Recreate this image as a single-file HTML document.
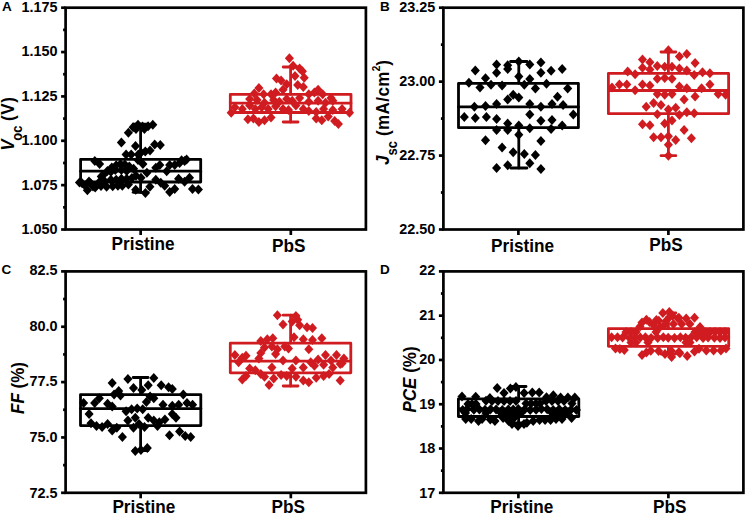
<!DOCTYPE html>
<html><head><meta charset="utf-8"><style>
html,body{margin:0;padding:0;background:#fff;}
svg{display:block;}
.ax line,.ax rect{stroke:#000;stroke-width:2.7;}
text{font-family:"Liberation Sans",sans-serif;font-weight:bold;fill:#000;}
.tk{font-size:14px;}
.xl{font-size:18px;}
.let{font-size:13.5px;}
.yt{font-size:17px;}
.sub{font-size:13px;}
.sup{font-size:10px;}
</style></head><body>
<svg width="747" height="515" viewBox="0 0 747 515">
<g class="ax"><line x1="61.10" y1="229.50" x2="65.6" y2="229.50"/>
<text x="57.50" y="234.30" text-anchor="end" class="tk" transform="translate(57.50,0) scale(1.03,1) translate(-57.50,0)">1.050</text>
<line x1="63.10" y1="207.32" x2="65.6" y2="207.32"/>
<line x1="61.10" y1="185.14" x2="65.6" y2="185.14"/>
<text x="57.50" y="189.78" text-anchor="end" class="tk" transform="translate(57.50,0) scale(1.03,1) translate(-57.50,0)">1.075</text>
<line x1="63.10" y1="162.96" x2="65.6" y2="162.96"/>
<line x1="61.10" y1="140.78" x2="65.6" y2="140.78"/>
<text x="57.50" y="145.26" text-anchor="end" class="tk" transform="translate(57.50,0) scale(1.03,1) translate(-57.50,0)">1.100</text>
<line x1="63.10" y1="118.60" x2="65.6" y2="118.60"/>
<line x1="61.10" y1="96.42" x2="65.6" y2="96.42"/>
<text x="57.50" y="100.74" text-anchor="end" class="tk" transform="translate(57.50,0) scale(1.03,1) translate(-57.50,0)">1.125</text>
<line x1="63.10" y1="74.24" x2="65.6" y2="74.24"/>
<line x1="61.10" y1="52.06" x2="65.6" y2="52.06"/>
<text x="57.50" y="56.22" text-anchor="end" class="tk" transform="translate(57.50,0) scale(1.03,1) translate(-57.50,0)">1.150</text>
<line x1="63.10" y1="29.88" x2="65.6" y2="29.88"/>
<line x1="61.10" y1="7.70" x2="65.6" y2="7.70"/>
<text x="57.50" y="11.70" text-anchor="end" class="tk" transform="translate(57.50,0) scale(1.03,1) translate(-57.50,0)">1.175</text>
<line x1="140.67" y1="229.5" x2="140.67" y2="235.00"/>
<line x1="290.82" y1="229.5" x2="290.82" y2="235.00"/>
<rect x="65.6" y="7.7" width="300.30" height="221.80" fill="none" stroke-linejoin="miter"/>
<line x1="438.90" y1="229.50" x2="443.4" y2="229.50"/>
<text x="435.30" y="234.30" text-anchor="end" class="tk" transform="translate(435.30,0) scale(1.03,1) translate(-435.30,0)">22.50</text>
<line x1="440.90" y1="192.53" x2="443.4" y2="192.53"/>
<line x1="438.90" y1="155.57" x2="443.4" y2="155.57"/>
<text x="435.30" y="160.10" text-anchor="end" class="tk" transform="translate(435.30,0) scale(1.03,1) translate(-435.30,0)">22.75</text>
<line x1="440.90" y1="118.60" x2="443.4" y2="118.60"/>
<line x1="438.90" y1="81.63" x2="443.4" y2="81.63"/>
<text x="435.30" y="85.90" text-anchor="end" class="tk" transform="translate(435.30,0) scale(1.03,1) translate(-435.30,0)">23.00</text>
<line x1="440.90" y1="44.67" x2="443.4" y2="44.67"/>
<line x1="438.90" y1="7.70" x2="443.4" y2="7.70"/>
<text x="435.30" y="11.70" text-anchor="end" class="tk" transform="translate(435.30,0) scale(1.03,1) translate(-435.30,0)">23.25</text>
<line x1="518.40" y1="229.5" x2="518.40" y2="235.00"/>
<line x1="668.40" y1="229.5" x2="668.40" y2="235.00"/>
<rect x="443.4" y="7.7" width="300.00" height="221.80" fill="none" stroke-linejoin="miter"/>
<line x1="61.10" y1="492.80" x2="65.6" y2="492.80"/>
<text x="57.50" y="497.60" text-anchor="end" class="tk" transform="translate(57.50,0) scale(1.03,1) translate(-57.50,0)">72.5</text>
<line x1="63.10" y1="465.12" x2="65.6" y2="465.12"/>
<line x1="61.10" y1="437.45" x2="65.6" y2="437.45"/>
<text x="57.50" y="442.05" text-anchor="end" class="tk" transform="translate(57.50,0) scale(1.03,1) translate(-57.50,0)">75.0</text>
<line x1="63.10" y1="409.77" x2="65.6" y2="409.77"/>
<line x1="61.10" y1="382.10" x2="65.6" y2="382.10"/>
<text x="57.50" y="386.50" text-anchor="end" class="tk" transform="translate(57.50,0) scale(1.03,1) translate(-57.50,0)">77.5</text>
<line x1="63.10" y1="354.42" x2="65.6" y2="354.42"/>
<line x1="61.10" y1="326.75" x2="65.6" y2="326.75"/>
<text x="57.50" y="330.95" text-anchor="end" class="tk" transform="translate(57.50,0) scale(1.03,1) translate(-57.50,0)">80.0</text>
<line x1="63.10" y1="299.07" x2="65.6" y2="299.07"/>
<line x1="61.10" y1="271.40" x2="65.6" y2="271.40"/>
<text x="57.50" y="275.40" text-anchor="end" class="tk" transform="translate(57.50,0) scale(1.03,1) translate(-57.50,0)">82.5</text>
<line x1="140.67" y1="492.8" x2="140.67" y2="498.30"/>
<line x1="290.82" y1="492.8" x2="290.82" y2="498.30"/>
<rect x="65.6" y="271.4" width="300.30" height="221.40" fill="none" stroke-linejoin="miter"/>
<line x1="438.90" y1="492.80" x2="443.4" y2="492.80"/>
<text x="435.30" y="497.60" text-anchor="end" class="tk" transform="translate(435.30,0) scale(1.03,1) translate(-435.30,0)">17</text>
<line x1="440.90" y1="470.66" x2="443.4" y2="470.66"/>
<line x1="438.90" y1="448.52" x2="443.4" y2="448.52"/>
<text x="435.30" y="453.16" text-anchor="end" class="tk" transform="translate(435.30,0) scale(1.03,1) translate(-435.30,0)">18</text>
<line x1="440.90" y1="426.38" x2="443.4" y2="426.38"/>
<line x1="438.90" y1="404.24" x2="443.4" y2="404.24"/>
<text x="435.30" y="408.72" text-anchor="end" class="tk" transform="translate(435.30,0) scale(1.03,1) translate(-435.30,0)">19</text>
<line x1="440.90" y1="382.10" x2="443.4" y2="382.10"/>
<line x1="438.90" y1="359.96" x2="443.4" y2="359.96"/>
<text x="435.30" y="364.28" text-anchor="end" class="tk" transform="translate(435.30,0) scale(1.03,1) translate(-435.30,0)">20</text>
<line x1="440.90" y1="337.82" x2="443.4" y2="337.82"/>
<line x1="438.90" y1="315.68" x2="443.4" y2="315.68"/>
<text x="435.30" y="319.84" text-anchor="end" class="tk" transform="translate(435.30,0) scale(1.03,1) translate(-435.30,0)">21</text>
<line x1="440.90" y1="293.54" x2="443.4" y2="293.54"/>
<line x1="438.90" y1="271.40" x2="443.4" y2="271.40"/>
<text x="435.30" y="275.40" text-anchor="end" class="tk" transform="translate(435.30,0) scale(1.03,1) translate(-435.30,0)">22</text>
<line x1="518.40" y1="492.8" x2="518.40" y2="498.30"/>
<line x1="668.40" y1="492.8" x2="668.40" y2="498.30"/>
<rect x="443.4" y="271.4" width="300.00" height="221.40" fill="none" stroke-linejoin="miter"/>
<text x="111.50" y="249.90" class="xl" transform="translate(111.50,0) scale(0.955,1) translate(-111.50,0)">Pristine</text>
<text x="272.00" y="252.40" class="xl" transform="translate(272.00,0) scale(0.955,1) translate(-272.00,0)">PbS</text>
<text x="491.10" y="251.60" class="xl" transform="translate(491.10,0) scale(0.955,1) translate(-491.10,0)">Pristine</text>
<text x="649.20" y="251.50" class="xl" transform="translate(649.20,0) scale(0.955,1) translate(-649.20,0)">PbS</text>
<text x="112.40" y="513.30" class="xl" transform="translate(112.40,0) scale(0.955,1) translate(-112.40,0)">Pristine</text>
<text x="271.50" y="513.40" class="xl" transform="translate(271.50,0) scale(0.955,1) translate(-271.50,0)">PbS</text>
<text x="490.30" y="512.70" class="xl" transform="translate(490.30,0) scale(0.955,1) translate(-490.30,0)">Pristine</text>
<text x="653.00" y="513.40" class="xl" transform="translate(653.00,0) scale(0.955,1) translate(-653.00,0)">PbS</text>
<text x="1.9" y="10.8" class="let">A</text>
<text x="379.9" y="10.7" class="let">B</text>
<text x="1.6" y="274.1" class="let">C</text>
<text x="379.9" y="273.6" class="let">D</text>
<text transform="translate(13.8,150.8) rotate(-90) scale(1,1.08)" class="yt"><tspan font-style="italic">V</tspan><tspan class="sub" dy="7.8" dx="-1.2" font-size="14">oc</tspan><tspan dy="-7.8" dx="-1.0" letter-spacing="0.7"> (V)</tspan></text>
<text transform="translate(389.4,165.0) rotate(-90) scale(1,1.08)" class="yt"><tspan font-style="italic">J</tspan><tspan class="sub" dy="6.8">sc</tspan><tspan dy="-6.8" letter-spacing="0.4"> (mA/cm</tspan><tspan class="sup" dy="-8.7">2</tspan><tspan dy="8.7">)</tspan></text>
<text transform="translate(23.5,414) rotate(-90) scale(1,1.08)" class="yt"><tspan font-style="italic">FF</tspan> (%)</text>
<text transform="translate(415.5,412.5) rotate(-90) scale(1,1.08)" class="yt"><tspan font-style="italic">PCE</tspan> (%)</text></g>
<g stroke="#000" stroke-width="2.8" fill="none" stroke-linejoin="round" stroke-linecap="round">
<rect x="80.6" y="159.3" width="120.10" height="22.70"/>
<line x1="80.6" y1="171.2" x2="200.7" y2="171.2"/>
<line x1="140.6" y1="124.2" x2="140.6" y2="159.3"/>
<line x1="140.6" y1="182.0" x2="140.6" y2="192.3"/>
<line x1="133.2" y1="124.2" x2="148.0" y2="124.2"/>
<line x1="133.2" y1="192.3" x2="148.0" y2="192.3"/>
</g>
<g fill="#000" stroke="none">
<path d="M138.0 119.8l4.55 5.0 -4.55 5.0 -4.55 -5.0z"/>
<path d="M142.5 121.5l4.55 5.0 -4.55 5.0 -4.55 -5.0z"/>
<path d="M136.0 124.0l4.55 5.0 -4.55 5.0 -4.55 -5.0z"/>
<path d="M152.8 119.8l4.55 5.0 -4.55 5.0 -4.55 -5.0z"/>
<path d="M128.4 127.8l4.55 5.0 -4.55 5.0 -4.55 -5.0z"/>
<path d="M133.1 122.2l4.55 5.0 -4.55 5.0 -4.55 -5.0z"/>
<path d="M144.4 124.1l4.55 5.0 -4.55 5.0 -4.55 -5.0z"/>
<path d="M148.1 121.2l4.55 5.0 -4.55 5.0 -4.55 -5.0z"/>
<path d="M121.4 137.6l4.55 5.0 -4.55 5.0 -4.55 -5.0z"/>
<path d="M135.5 140.9l4.55 5.0 -4.55 5.0 -4.55 -5.0z"/>
<path d="M154.7 139.5l4.55 5.0 -4.55 5.0 -4.55 -5.0z"/>
<path d="M160.3 140.0l4.55 5.0 -4.55 5.0 -4.55 -5.0z"/>
<path d="M145.3 146.6l4.55 5.0 -4.55 5.0 -4.55 -5.0z"/>
<path d="M150.0 145.6l4.55 5.0 -4.55 5.0 -4.55 -5.0z"/>
<path d="M126.1 149.4l4.55 5.0 -4.55 5.0 -4.55 -5.0z"/>
<path d="M131.2 149.4l4.55 5.0 -4.55 5.0 -4.55 -5.0z"/>
<path d="M138.3 149.4l4.55 5.0 -4.55 5.0 -4.55 -5.0z"/>
<path d="M141.1 147.5l4.55 5.0 -4.55 5.0 -4.55 -5.0z"/>
<path d="M138.0 154.9l4.55 5.0 -4.55 5.0 -4.55 -5.0z"/>
<path d="M142.9 158.9l4.55 5.0 -4.55 5.0 -4.55 -5.0z"/>
<path d="M155.8 162.8l4.55 5.0 -4.55 5.0 -4.55 -5.0z"/>
<path d="M159.8 159.9l4.55 5.0 -4.55 5.0 -4.55 -5.0z"/>
<path d="M166.7 166.3l4.55 5.0 -4.55 5.0 -4.55 -5.0z"/>
<path d="M169.7 159.9l4.55 5.0 -4.55 5.0 -4.55 -5.0z"/>
<path d="M174.7 159.9l4.55 5.0 -4.55 5.0 -4.55 -5.0z"/>
<path d="M179.6 157.9l4.55 5.0 -4.55 5.0 -4.55 -5.0z"/>
<path d="M184.6 155.9l4.55 5.0 -4.55 5.0 -4.55 -5.0z"/>
<path d="M186.6 154.6l4.55 5.0 -4.55 5.0 -4.55 -5.0z"/>
<path d="M181.6 155.2l4.55 5.0 -4.55 5.0 -4.55 -5.0z"/>
<path d="M146.9 167.8l4.55 5.0 -4.55 5.0 -4.55 -5.0z"/>
<path d="M141.0 172.8l4.55 5.0 -4.55 5.0 -4.55 -5.0z"/>
<path d="M155.8 174.7l4.55 5.0 -4.55 5.0 -4.55 -5.0z"/>
<path d="M160.8 177.7l4.55 5.0 -4.55 5.0 -4.55 -5.0z"/>
<path d="M164.7 180.7l4.55 5.0 -4.55 5.0 -4.55 -5.0z"/>
<path d="M178.6 173.7l4.55 5.0 -4.55 5.0 -4.55 -5.0z"/>
<path d="M184.6 176.7l4.55 5.0 -4.55 5.0 -4.55 -5.0z"/>
<path d="M189.5 172.8l4.55 5.0 -4.55 5.0 -4.55 -5.0z"/>
<path d="M149.9 181.7l4.55 5.0 -4.55 5.0 -4.55 -5.0z"/>
<path d="M145.4 188.1l4.55 5.0 -4.55 5.0 -4.55 -5.0z"/>
<path d="M169.7 187.1l4.55 5.0 -4.55 5.0 -4.55 -5.0z"/>
<path d="M174.7 184.1l4.55 5.0 -4.55 5.0 -4.55 -5.0z"/>
<path d="M192.5 184.1l4.55 5.0 -4.55 5.0 -4.55 -5.0z"/>
<path d="M198.4 184.6l4.55 5.0 -4.55 5.0 -4.55 -5.0z"/>
<path d="M94.8 155.9l4.55 5.0 -4.55 5.0 -4.55 -5.0z"/>
<path d="M99.6 159.0l4.55 5.0 -4.55 5.0 -4.55 -5.0z"/>
<path d="M103.1 170.3l4.55 5.0 -4.55 5.0 -4.55 -5.0z"/>
<path d="M107.4 166.0l4.55 5.0 -4.55 5.0 -4.55 -5.0z"/>
<path d="M111.8 162.5l4.55 5.0 -4.55 5.0 -4.55 -5.0z"/>
<path d="M116.2 160.3l4.55 5.0 -4.55 5.0 -4.55 -5.0z"/>
<path d="M120.5 159.0l4.55 5.0 -4.55 5.0 -4.55 -5.0z"/>
<path d="M124.9 159.4l4.55 5.0 -4.55 5.0 -4.55 -5.0z"/>
<path d="M129.3 161.6l4.55 5.0 -4.55 5.0 -4.55 -5.0z"/>
<path d="M133.6 163.8l4.55 5.0 -4.55 5.0 -4.55 -5.0z"/>
<path d="M121.4 165.1l4.55 5.0 -4.55 5.0 -4.55 -5.0z"/>
<path d="M126.7 166.0l4.55 5.0 -4.55 5.0 -4.55 -5.0z"/>
<path d="M115.3 165.1l4.55 5.0 -4.55 5.0 -4.55 -5.0z"/>
<path d="M110.9 166.8l4.55 5.0 -4.55 5.0 -4.55 -5.0z"/>
<path d="M87.4 185.2l4.55 5.0 -4.55 5.0 -4.55 -5.0z"/>
<path d="M95.2 182.6l4.55 5.0 -4.55 5.0 -4.55 -5.0z"/>
<path d="M106.6 181.7l4.55 5.0 -4.55 5.0 -4.55 -5.0z"/>
<path d="M112.7 181.2l4.55 5.0 -4.55 5.0 -4.55 -5.0z"/>
<path d="M117.9 180.8l4.55 5.0 -4.55 5.0 -4.55 -5.0z"/>
<path d="M122.3 180.8l4.55 5.0 -4.55 5.0 -4.55 -5.0z"/>
<path d="M128.4 179.5l4.55 5.0 -4.55 5.0 -4.55 -5.0z"/>
<path d="M82.1 178.2l4.55 5.0 -4.55 5.0 -4.55 -5.0z"/>
<path d="M90.8 178.6l4.55 5.0 -4.55 5.0 -4.55 -5.0z"/>
<path d="M98.7 177.8l4.55 5.0 -4.55 5.0 -4.55 -5.0z"/>
<path d="M104.8 176.4l4.55 5.0 -4.55 5.0 -4.55 -5.0z"/>
<path d="M110.9 174.7l4.55 5.0 -4.55 5.0 -4.55 -5.0z"/>
<path d="M116.2 174.7l4.55 5.0 -4.55 5.0 -4.55 -5.0z"/>
<path d="M121.4 173.8l4.55 5.0 -4.55 5.0 -4.55 -5.0z"/>
<path d="M126.7 173.8l4.55 5.0 -4.55 5.0 -4.55 -5.0z"/>
<path d="M131.9 172.9l4.55 5.0 -4.55 5.0 -4.55 -5.0z"/>
<path d="M101.3 171.6l4.55 5.0 -4.55 5.0 -4.55 -5.0z"/>
<path d="M135.7 184.8l4.55 5.0 -4.55 5.0 -4.55 -5.0z"/>
<path d="M136.0 170.8l4.55 5.0 -4.55 5.0 -4.55 -5.0z"/>
<path d="M85.0 180.5l4.55 5.0 -4.55 5.0 -4.55 -5.0z"/>
<path d="M93.0 181.5l4.55 5.0 -4.55 5.0 -4.55 -5.0z"/>
<path d="M101.0 181.0l4.55 5.0 -4.55 5.0 -4.55 -5.0z"/>
<path d="M79.5 177.5l4.55 5.0 -4.55 5.0 -4.55 -5.0z"/>
<path d="M89.0 176.5l4.55 5.0 -4.55 5.0 -4.55 -5.0z"/>
</g>
<g stroke="#d01c21" stroke-width="2.8" fill="none" stroke-linejoin="round" stroke-linecap="round">
<rect x="230.3" y="94.3" width="120.70" height="18.20"/>
<line x1="230.3" y1="103.1" x2="351.0" y2="103.1"/>
<line x1="290.6" y1="67" x2="290.6" y2="94.3"/>
<line x1="290.6" y1="112.5" x2="290.6" y2="122"/>
<line x1="283.20000000000005" y1="67" x2="298.0" y2="67"/>
<line x1="283.20000000000005" y1="122" x2="298.0" y2="122"/>
</g>
<g fill="#d01c21" stroke="none">
<path d="M289.4 53.3l4.55 5.0 -4.55 5.0 -4.55 -5.0z"/>
<path d="M293.1 60.7l4.55 5.0 -4.55 5.0 -4.55 -5.0z"/>
<path d="M299.6 63.5l4.55 5.0 -4.55 5.0 -4.55 -5.0z"/>
<path d="M302.4 66.2l4.55 5.0 -4.55 5.0 -4.55 -5.0z"/>
<path d="M295.0 70.9l4.55 5.0 -4.55 5.0 -4.55 -5.0z"/>
<path d="M304.2 72.7l4.55 5.0 -4.55 5.0 -4.55 -5.0z"/>
<path d="M276.5 73.6l4.55 5.0 -4.55 5.0 -4.55 -5.0z"/>
<path d="M281.1 75.5l4.55 5.0 -4.55 5.0 -4.55 -5.0z"/>
<path d="M286.7 79.2l4.55 5.0 -4.55 5.0 -4.55 -5.0z"/>
<path d="M297.7 80.1l4.55 5.0 -4.55 5.0 -4.55 -5.0z"/>
<path d="M303.3 81.9l4.55 5.0 -4.55 5.0 -4.55 -5.0z"/>
<path d="M258.9 82.9l4.55 5.0 -4.55 5.0 -4.55 -5.0z"/>
<path d="M318.1 84.7l4.55 5.0 -4.55 5.0 -4.55 -5.0z"/>
<path d="M283.0 84.7l4.55 5.0 -4.55 5.0 -4.55 -5.0z"/>
<path d="M254.3 88.4l4.55 5.0 -4.55 5.0 -4.55 -5.0z"/>
<path d="M263.6 89.3l4.55 5.0 -4.55 5.0 -4.55 -5.0z"/>
<path d="M271.0 89.3l4.55 5.0 -4.55 5.0 -4.55 -5.0z"/>
<path d="M275.6 87.5l4.55 5.0 -4.55 5.0 -4.55 -5.0z"/>
<path d="M308.8 89.3l4.55 5.0 -4.55 5.0 -4.55 -5.0z"/>
<path d="M314.4 87.5l4.55 5.0 -4.55 5.0 -4.55 -5.0z"/>
<path d="M322.7 89.3l4.55 5.0 -4.55 5.0 -4.55 -5.0z"/>
<path d="M331.0 93.0l4.55 5.0 -4.55 5.0 -4.55 -5.0z"/>
<path d="M249.7 94.0l4.55 5.0 -4.55 5.0 -4.55 -5.0z"/>
<path d="M257.1 94.9l4.55 5.0 -4.55 5.0 -4.55 -5.0z"/>
<path d="M264.5 97.7l4.55 5.0 -4.55 5.0 -4.55 -5.0z"/>
<path d="M273.7 94.9l4.55 5.0 -4.55 5.0 -4.55 -5.0z"/>
<path d="M279.3 96.7l4.55 5.0 -4.55 5.0 -4.55 -5.0z"/>
<path d="M286.7 94.0l4.55 5.0 -4.55 5.0 -4.55 -5.0z"/>
<path d="M292.2 95.8l4.55 5.0 -4.55 5.0 -4.55 -5.0z"/>
<path d="M299.6 93.0l4.55 5.0 -4.55 5.0 -4.55 -5.0z"/>
<path d="M308.8 96.7l4.55 5.0 -4.55 5.0 -4.55 -5.0z"/>
<path d="M318.1 95.8l4.55 5.0 -4.55 5.0 -4.55 -5.0z"/>
<path d="M325.5 97.7l4.55 5.0 -4.55 5.0 -4.55 -5.0z"/>
<path d="M332.8 95.8l4.55 5.0 -4.55 5.0 -4.55 -5.0z"/>
<path d="M234.9 102.3l4.55 5.0 -4.55 5.0 -4.55 -5.0z"/>
<path d="M231.2 107.8l4.55 5.0 -4.55 5.0 -4.55 -5.0z"/>
<path d="M242.3 104.1l4.55 5.0 -4.55 5.0 -4.55 -5.0z"/>
<path d="M249.7 100.4l4.55 5.0 -4.55 5.0 -4.55 -5.0z"/>
<path d="M255.3 104.1l4.55 5.0 -4.55 5.0 -4.55 -5.0z"/>
<path d="M261.7 102.3l4.55 5.0 -4.55 5.0 -4.55 -5.0z"/>
<path d="M268.2 104.1l4.55 5.0 -4.55 5.0 -4.55 -5.0z"/>
<path d="M275.6 101.3l4.55 5.0 -4.55 5.0 -4.55 -5.0z"/>
<path d="M283.0 104.1l4.55 5.0 -4.55 5.0 -4.55 -5.0z"/>
<path d="M288.5 105.0l4.55 5.0 -4.55 5.0 -4.55 -5.0z"/>
<path d="M295.9 100.4l4.55 5.0 -4.55 5.0 -4.55 -5.0z"/>
<path d="M303.3 104.1l4.55 5.0 -4.55 5.0 -4.55 -5.0z"/>
<path d="M308.8 106.0l4.55 5.0 -4.55 5.0 -4.55 -5.0z"/>
<path d="M316.2 106.9l4.55 5.0 -4.55 5.0 -4.55 -5.0z"/>
<path d="M323.6 104.1l4.55 5.0 -4.55 5.0 -4.55 -5.0z"/>
<path d="M332.8 105.0l4.55 5.0 -4.55 5.0 -4.55 -5.0z"/>
<path d="M342.1 104.1l4.55 5.0 -4.55 5.0 -4.55 -5.0z"/>
<path d="M349.5 107.8l4.55 5.0 -4.55 5.0 -4.55 -5.0z"/>
<path d="M247.9 114.3l4.55 5.0 -4.55 5.0 -4.55 -5.0z"/>
<path d="M253.4 113.4l4.55 5.0 -4.55 5.0 -4.55 -5.0z"/>
<path d="M258.9 117.0l4.55 5.0 -4.55 5.0 -4.55 -5.0z"/>
<path d="M264.5 115.2l4.55 5.0 -4.55 5.0 -4.55 -5.0z"/>
<path d="M271.0 112.4l4.55 5.0 -4.55 5.0 -4.55 -5.0z"/>
<path d="M316.2 113.4l4.55 5.0 -4.55 5.0 -4.55 -5.0z"/>
<path d="M321.8 115.2l4.55 5.0 -4.55 5.0 -4.55 -5.0z"/>
<path d="M328.2 111.5l4.55 5.0 -4.55 5.0 -4.55 -5.0z"/>
<path d="M334.7 116.1l4.55 5.0 -4.55 5.0 -4.55 -5.0z"/>
<path d="M338.4 118.9l4.55 5.0 -4.55 5.0 -4.55 -5.0z"/>
</g>
<g stroke="#000" stroke-width="2.8" fill="none" stroke-linejoin="round" stroke-linecap="round">
<rect x="458.5" y="83.3" width="119.90" height="44.40"/>
<line x1="458.5" y1="106.9" x2="578.4" y2="106.9"/>
<line x1="518.8" y1="61.5" x2="518.8" y2="83.3"/>
<line x1="518.8" y1="127.7" x2="518.8" y2="168"/>
<line x1="510.59999999999997" y1="61.5" x2="527.0" y2="61.5"/>
<line x1="510.59999999999997" y1="168" x2="527.0" y2="168"/>
</g>
<g fill="#000" stroke="none">
<path d="M496.6 59.4l4.55 5.0 -4.55 5.0 -4.55 -5.0z"/>
<path d="M507.7 60.3l4.55 5.0 -4.55 5.0 -4.55 -5.0z"/>
<path d="M518.8 56.6l4.55 5.0 -4.55 5.0 -4.55 -5.0z"/>
<path d="M529.8 59.4l4.55 5.0 -4.55 5.0 -4.55 -5.0z"/>
<path d="M540.9 57.5l4.55 5.0 -4.55 5.0 -4.55 -5.0z"/>
<path d="M475.3 65.5l4.55 5.0 -4.55 5.0 -4.55 -5.0z"/>
<path d="M496.6 67.7l4.55 5.0 -4.55 5.0 -4.55 -5.0z"/>
<path d="M507.7 64.0l4.55 5.0 -4.55 5.0 -4.55 -5.0z"/>
<path d="M540.9 67.7l4.55 5.0 -4.55 5.0 -4.55 -5.0z"/>
<path d="M551.1 65.8l4.55 5.0 -4.55 5.0 -4.55 -5.0z"/>
<path d="M562.2 64.0l4.55 5.0 -4.55 5.0 -4.55 -5.0z"/>
<path d="M485.5 73.2l4.55 5.0 -4.55 5.0 -4.55 -5.0z"/>
<path d="M518.8 71.4l4.55 5.0 -4.55 5.0 -4.55 -5.0z"/>
<path d="M529.8 74.1l4.55 5.0 -4.55 5.0 -4.55 -5.0z"/>
<path d="M468.9 77.8l4.55 5.0 -4.55 5.0 -4.55 -5.0z"/>
<path d="M480.0 82.4l4.55 5.0 -4.55 5.0 -4.55 -5.0z"/>
<path d="M491.0 79.7l4.55 5.0 -4.55 5.0 -4.55 -5.0z"/>
<path d="M502.1 80.6l4.55 5.0 -4.55 5.0 -4.55 -5.0z"/>
<path d="M524.3 79.7l4.55 5.0 -4.55 5.0 -4.55 -5.0z"/>
<path d="M535.4 83.4l4.55 5.0 -4.55 5.0 -4.55 -5.0z"/>
<path d="M546.5 78.8l4.55 5.0 -4.55 5.0 -4.55 -5.0z"/>
<path d="M567.7 83.4l4.55 5.0 -4.55 5.0 -4.55 -5.0z"/>
<path d="M513.2 89.8l4.55 5.0 -4.55 5.0 -4.55 -5.0z"/>
<path d="M507.7 94.5l4.55 5.0 -4.55 5.0 -4.55 -5.0z"/>
<path d="M518.8 92.6l4.55 5.0 -4.55 5.0 -4.55 -5.0z"/>
<path d="M557.5 91.7l4.55 5.0 -4.55 5.0 -4.55 -5.0z"/>
<path d="M474.4 101.8l4.55 5.0 -4.55 5.0 -4.55 -5.0z"/>
<path d="M485.5 100.9l4.55 5.0 -4.55 5.0 -4.55 -5.0z"/>
<path d="M496.6 99.1l4.55 5.0 -4.55 5.0 -4.55 -5.0z"/>
<path d="M529.8 99.1l4.55 5.0 -4.55 5.0 -4.55 -5.0z"/>
<path d="M540.9 101.8l4.55 5.0 -4.55 5.0 -4.55 -5.0z"/>
<path d="M552.0 99.1l4.55 5.0 -4.55 5.0 -4.55 -5.0z"/>
<path d="M563.1 100.0l4.55 5.0 -4.55 5.0 -4.55 -5.0z"/>
<path d="M464.3 112.1l4.55 5.0 -4.55 5.0 -4.55 -5.0z"/>
<path d="M475.3 113.1l4.55 5.0 -4.55 5.0 -4.55 -5.0z"/>
<path d="M486.4 112.1l4.55 5.0 -4.55 5.0 -4.55 -5.0z"/>
<path d="M496.6 114.0l4.55 5.0 -4.55 5.0 -4.55 -5.0z"/>
<path d="M529.8 109.4l4.55 5.0 -4.55 5.0 -4.55 -5.0z"/>
<path d="M540.9 115.8l4.55 5.0 -4.55 5.0 -4.55 -5.0z"/>
<path d="M552.0 114.9l4.55 5.0 -4.55 5.0 -4.55 -5.0z"/>
<path d="M573.3 109.4l4.55 5.0 -4.55 5.0 -4.55 -5.0z"/>
<path d="M507.7 118.6l4.55 5.0 -4.55 5.0 -4.55 -5.0z"/>
<path d="M518.8 120.4l4.55 5.0 -4.55 5.0 -4.55 -5.0z"/>
<path d="M529.8 123.2l4.55 5.0 -4.55 5.0 -4.55 -5.0z"/>
<path d="M496.6 125.1l4.55 5.0 -4.55 5.0 -4.55 -5.0z"/>
<path d="M507.7 125.1l4.55 5.0 -4.55 5.0 -4.55 -5.0z"/>
<path d="M551.1 124.1l4.55 5.0 -4.55 5.0 -4.55 -5.0z"/>
<path d="M562.2 120.4l4.55 5.0 -4.55 5.0 -4.55 -5.0z"/>
<path d="M518.8 129.7l4.55 5.0 -4.55 5.0 -4.55 -5.0z"/>
<path d="M485.5 135.2l4.55 5.0 -4.55 5.0 -4.55 -5.0z"/>
<path d="M540.9 136.1l4.55 5.0 -4.55 5.0 -4.55 -5.0z"/>
<path d="M502.1 142.6l4.55 5.0 -4.55 5.0 -4.55 -5.0z"/>
<path d="M513.2 147.2l4.55 5.0 -4.55 5.0 -4.55 -5.0z"/>
<path d="M524.3 149.1l4.55 5.0 -4.55 5.0 -4.55 -5.0z"/>
<path d="M535.4 150.0l4.55 5.0 -4.55 5.0 -4.55 -5.0z"/>
<path d="M496.6 162.9l4.55 5.0 -4.55 5.0 -4.55 -5.0z"/>
<path d="M507.7 160.2l4.55 5.0 -4.55 5.0 -4.55 -5.0z"/>
<path d="M529.8 158.3l4.55 5.0 -4.55 5.0 -4.55 -5.0z"/>
<path d="M540.9 163.9l4.55 5.0 -4.55 5.0 -4.55 -5.0z"/>
</g>
<g stroke="#d01c21" stroke-width="2.8" fill="none" stroke-linejoin="round" stroke-linecap="round">
<rect x="608.4" y="73.4" width="120.20" height="40.30"/>
<line x1="608.4" y1="90.5" x2="728.6" y2="90.5"/>
<line x1="668.4" y1="52" x2="668.4" y2="73.4"/>
<line x1="668.4" y1="113.7" x2="668.4" y2="155.7"/>
<line x1="661.0" y1="52" x2="675.8" y2="52"/>
<line x1="661.0" y1="155.7" x2="675.8" y2="155.7"/>
</g>
<g fill="#d01c21" stroke="none">
<path d="M668.4 45.2l4.55 5.0 -4.55 5.0 -4.55 -5.0z"/>
<path d="M679.4 51.6l4.55 5.0 -4.55 5.0 -4.55 -5.0z"/>
<path d="M686.8 48.9l4.55 5.0 -4.55 5.0 -4.55 -5.0z"/>
<path d="M695.1 58.1l4.55 5.0 -4.55 5.0 -4.55 -5.0z"/>
<path d="M642.5 54.4l4.55 5.0 -4.55 5.0 -4.55 -5.0z"/>
<path d="M649.9 57.2l4.55 5.0 -4.55 5.0 -4.55 -5.0z"/>
<path d="M642.5 62.7l4.55 5.0 -4.55 5.0 -4.55 -5.0z"/>
<path d="M649.9 64.6l4.55 5.0 -4.55 5.0 -4.55 -5.0z"/>
<path d="M657.3 60.9l4.55 5.0 -4.55 5.0 -4.55 -5.0z"/>
<path d="M664.7 61.8l4.55 5.0 -4.55 5.0 -4.55 -5.0z"/>
<path d="M672.0 61.8l4.55 5.0 -4.55 5.0 -4.55 -5.0z"/>
<path d="M679.4 63.6l4.55 5.0 -4.55 5.0 -4.55 -5.0z"/>
<path d="M686.8 65.5l4.55 5.0 -4.55 5.0 -4.55 -5.0z"/>
<path d="M627.7 66.4l4.55 5.0 -4.55 5.0 -4.55 -5.0z"/>
<path d="M635.1 69.2l4.55 5.0 -4.55 5.0 -4.55 -5.0z"/>
<path d="M702.5 67.3l4.55 5.0 -4.55 5.0 -4.55 -5.0z"/>
<path d="M709.9 68.3l4.55 5.0 -4.55 5.0 -4.55 -5.0z"/>
<path d="M694.2 70.1l4.55 5.0 -4.55 5.0 -4.55 -5.0z"/>
<path d="M657.3 73.8l4.55 5.0 -4.55 5.0 -4.55 -5.0z"/>
<path d="M664.7 72.9l4.55 5.0 -4.55 5.0 -4.55 -5.0z"/>
<path d="M672.0 73.8l4.55 5.0 -4.55 5.0 -4.55 -5.0z"/>
<path d="M612.0 82.4l4.55 5.0 -4.55 5.0 -4.55 -5.0z"/>
<path d="M619.4 79.6l4.55 5.0 -4.55 5.0 -4.55 -5.0z"/>
<path d="M626.8 79.6l4.55 5.0 -4.55 5.0 -4.55 -5.0z"/>
<path d="M635.1 85.2l4.55 5.0 -4.55 5.0 -4.55 -5.0z"/>
<path d="M642.5 79.6l4.55 5.0 -4.55 5.0 -4.55 -5.0z"/>
<path d="M649.9 80.5l4.55 5.0 -4.55 5.0 -4.55 -5.0z"/>
<path d="M679.4 81.5l4.55 5.0 -4.55 5.0 -4.55 -5.0z"/>
<path d="M686.8 83.3l4.55 5.0 -4.55 5.0 -4.55 -5.0z"/>
<path d="M701.6 83.3l4.55 5.0 -4.55 5.0 -4.55 -5.0z"/>
<path d="M709.9 79.6l4.55 5.0 -4.55 5.0 -4.55 -5.0z"/>
<path d="M718.2 88.9l4.55 5.0 -4.55 5.0 -4.55 -5.0z"/>
<path d="M725.6 89.8l4.55 5.0 -4.55 5.0 -4.55 -5.0z"/>
<path d="M657.3 88.9l4.55 5.0 -4.55 5.0 -4.55 -5.0z"/>
<path d="M664.7 89.8l4.55 5.0 -4.55 5.0 -4.55 -5.0z"/>
<path d="M672.0 88.9l4.55 5.0 -4.55 5.0 -4.55 -5.0z"/>
<path d="M684.1 94.4l4.55 5.0 -4.55 5.0 -4.55 -5.0z"/>
<path d="M695.1 91.6l4.55 5.0 -4.55 5.0 -4.55 -5.0z"/>
<path d="M646.2 101.8l4.55 5.0 -4.55 5.0 -4.55 -5.0z"/>
<path d="M653.6 98.1l4.55 5.0 -4.55 5.0 -4.55 -5.0z"/>
<path d="M661.0 99.9l4.55 5.0 -4.55 5.0 -4.55 -5.0z"/>
<path d="M668.4 104.6l4.55 5.0 -4.55 5.0 -4.55 -5.0z"/>
<path d="M675.7 102.7l4.55 5.0 -4.55 5.0 -4.55 -5.0z"/>
<path d="M657.3 109.2l4.55 5.0 -4.55 5.0 -4.55 -5.0z"/>
<path d="M679.4 110.1l4.55 5.0 -4.55 5.0 -4.55 -5.0z"/>
<path d="M686.8 107.3l4.55 5.0 -4.55 5.0 -4.55 -5.0z"/>
<path d="M694.2 108.3l4.55 5.0 -4.55 5.0 -4.55 -5.0z"/>
<path d="M642.5 119.3l4.55 5.0 -4.55 5.0 -4.55 -5.0z"/>
<path d="M649.9 120.3l4.55 5.0 -4.55 5.0 -4.55 -5.0z"/>
<path d="M664.7 118.4l4.55 5.0 -4.55 5.0 -4.55 -5.0z"/>
<path d="M672.0 115.6l4.55 5.0 -4.55 5.0 -4.55 -5.0z"/>
<path d="M684.1 124.9l4.55 5.0 -4.55 5.0 -4.55 -5.0z"/>
<path d="M653.6 132.3l4.55 5.0 -4.55 5.0 -4.55 -5.0z"/>
<path d="M661.0 132.3l4.55 5.0 -4.55 5.0 -4.55 -5.0z"/>
<path d="M668.4 131.3l4.55 5.0 -4.55 5.0 -4.55 -5.0z"/>
<path d="M675.7 135.0l4.55 5.0 -4.55 5.0 -4.55 -5.0z"/>
<path d="M691.4 133.2l4.55 5.0 -4.55 5.0 -4.55 -5.0z"/>
<path d="M668.4 139.7l4.55 5.0 -4.55 5.0 -4.55 -5.0z"/>
<path d="M668.4 150.7l4.55 5.0 -4.55 5.0 -4.55 -5.0z"/>
</g>
<g stroke="#000" stroke-width="2.8" fill="none" stroke-linejoin="round" stroke-linecap="round">
<rect x="80.5" y="394.6" width="120.30" height="31.00"/>
<line x1="80.5" y1="408.6" x2="200.8" y2="408.6"/>
<line x1="140.6" y1="377.5" x2="140.6" y2="394.6"/>
<line x1="140.6" y1="425.6" x2="140.6" y2="450.5"/>
<line x1="133.2" y1="377.5" x2="148.0" y2="377.5"/>
<line x1="133.2" y1="450.5" x2="148.0" y2="450.5"/>
</g>
<g fill="#000" stroke="none">
<path d="M112.2 378.1l4.55 5.0 -4.55 5.0 -4.55 -5.0z"/>
<path d="M127.9 373.9l4.55 5.0 -4.55 5.0 -4.55 -5.0z"/>
<path d="M153.8 372.9l4.55 5.0 -4.55 5.0 -4.55 -5.0z"/>
<path d="M133.5 383.1l4.55 5.0 -4.55 5.0 -4.55 -5.0z"/>
<path d="M141.8 385.0l4.55 5.0 -4.55 5.0 -4.55 -5.0z"/>
<path d="M148.2 380.3l4.55 5.0 -4.55 5.0 -4.55 -5.0z"/>
<path d="M161.2 380.3l4.55 5.0 -4.55 5.0 -4.55 -5.0z"/>
<path d="M168.6 382.2l4.55 5.0 -4.55 5.0 -4.55 -5.0z"/>
<path d="M172.3 384.0l4.55 5.0 -4.55 5.0 -4.55 -5.0z"/>
<path d="M118.7 385.9l4.55 5.0 -4.55 5.0 -4.55 -5.0z"/>
<path d="M114.1 389.6l4.55 5.0 -4.55 5.0 -4.55 -5.0z"/>
<path d="M120.5 390.5l4.55 5.0 -4.55 5.0 -4.55 -5.0z"/>
<path d="M150.1 391.4l4.55 5.0 -4.55 5.0 -4.55 -5.0z"/>
<path d="M183.3 389.6l4.55 5.0 -4.55 5.0 -4.55 -5.0z"/>
<path d="M83.6 397.9l4.55 5.0 -4.55 5.0 -4.55 -5.0z"/>
<path d="M94.7 397.9l4.55 5.0 -4.55 5.0 -4.55 -5.0z"/>
<path d="M99.3 393.3l4.55 5.0 -4.55 5.0 -4.55 -5.0z"/>
<path d="M107.6 398.8l4.55 5.0 -4.55 5.0 -4.55 -5.0z"/>
<path d="M112.2 401.6l4.55 5.0 -4.55 5.0 -4.55 -5.0z"/>
<path d="M146.4 397.0l4.55 5.0 -4.55 5.0 -4.55 -5.0z"/>
<path d="M153.8 393.3l4.55 5.0 -4.55 5.0 -4.55 -5.0z"/>
<path d="M163.0 399.7l4.55 5.0 -4.55 5.0 -4.55 -5.0z"/>
<path d="M172.3 400.7l4.55 5.0 -4.55 5.0 -4.55 -5.0z"/>
<path d="M178.7 399.7l4.55 5.0 -4.55 5.0 -4.55 -5.0z"/>
<path d="M187.0 397.9l4.55 5.0 -4.55 5.0 -4.55 -5.0z"/>
<path d="M192.6 399.7l4.55 5.0 -4.55 5.0 -4.55 -5.0z"/>
<path d="M126.1 406.2l4.55 5.0 -4.55 5.0 -4.55 -5.0z"/>
<path d="M131.6 404.3l4.55 5.0 -4.55 5.0 -4.55 -5.0z"/>
<path d="M137.2 403.4l4.55 5.0 -4.55 5.0 -4.55 -5.0z"/>
<path d="M142.7 404.3l4.55 5.0 -4.55 5.0 -4.55 -5.0z"/>
<path d="M89.1 409.0l4.55 5.0 -4.55 5.0 -4.55 -5.0z"/>
<path d="M172.3 409.0l4.55 5.0 -4.55 5.0 -4.55 -5.0z"/>
<path d="M176.0 412.7l4.55 5.0 -4.55 5.0 -4.55 -5.0z"/>
<path d="M127.9 415.4l4.55 5.0 -4.55 5.0 -4.55 -5.0z"/>
<path d="M135.3 412.7l4.55 5.0 -4.55 5.0 -4.55 -5.0z"/>
<path d="M148.2 412.7l4.55 5.0 -4.55 5.0 -4.55 -5.0z"/>
<path d="M153.8 415.4l4.55 5.0 -4.55 5.0 -4.55 -5.0z"/>
<path d="M159.3 417.3l4.55 5.0 -4.55 5.0 -4.55 -5.0z"/>
<path d="M164.9 414.5l4.55 5.0 -4.55 5.0 -4.55 -5.0z"/>
<path d="M91.0 418.2l4.55 5.0 -4.55 5.0 -4.55 -5.0z"/>
<path d="M96.5 421.0l4.55 5.0 -4.55 5.0 -4.55 -5.0z"/>
<path d="M102.1 421.9l4.55 5.0 -4.55 5.0 -4.55 -5.0z"/>
<path d="M107.6 419.1l4.55 5.0 -4.55 5.0 -4.55 -5.0z"/>
<path d="M112.2 425.6l4.55 5.0 -4.55 5.0 -4.55 -5.0z"/>
<path d="M116.8 422.8l4.55 5.0 -4.55 5.0 -4.55 -5.0z"/>
<path d="M133.5 422.8l4.55 5.0 -4.55 5.0 -4.55 -5.0z"/>
<path d="M139.0 419.1l4.55 5.0 -4.55 5.0 -4.55 -5.0z"/>
<path d="M144.5 421.9l4.55 5.0 -4.55 5.0 -4.55 -5.0z"/>
<path d="M157.5 421.0l4.55 5.0 -4.55 5.0 -4.55 -5.0z"/>
<path d="M122.4 432.1l4.55 5.0 -4.55 5.0 -4.55 -5.0z"/>
<path d="M169.5 430.2l4.55 5.0 -4.55 5.0 -4.55 -5.0z"/>
<path d="M179.6 426.5l4.55 5.0 -4.55 5.0 -4.55 -5.0z"/>
<path d="M185.2 431.1l4.55 5.0 -4.55 5.0 -4.55 -5.0z"/>
<path d="M190.7 432.1l4.55 5.0 -4.55 5.0 -4.55 -5.0z"/>
<path d="M135.3 445.9l4.55 5.0 -4.55 5.0 -4.55 -5.0z"/>
<path d="M140.9 445.0l4.55 5.0 -4.55 5.0 -4.55 -5.0z"/>
<path d="M147.3 443.1l4.55 5.0 -4.55 5.0 -4.55 -5.0z"/>
</g>
<g stroke="#d01c21" stroke-width="2.8" fill="none" stroke-linejoin="round" stroke-linecap="round">
<rect x="230.3" y="343.2" width="120.50" height="29.60"/>
<line x1="230.3" y1="361.1" x2="350.8" y2="361.1"/>
<line x1="290.6" y1="315.2" x2="290.6" y2="343.2"/>
<line x1="290.6" y1="372.8" x2="290.6" y2="386"/>
<line x1="283.20000000000005" y1="315.2" x2="298.0" y2="315.2"/>
<line x1="283.20000000000005" y1="386" x2="298.0" y2="386"/>
</g>
<g fill="#d01c21" stroke="none">
<path d="M277.4 310.2l4.55 5.0 -4.55 5.0 -4.55 -5.0z"/>
<path d="M295.9 311.1l4.55 5.0 -4.55 5.0 -4.55 -5.0z"/>
<path d="M283.0 319.4l4.55 5.0 -4.55 5.0 -4.55 -5.0z"/>
<path d="M292.2 316.6l4.55 5.0 -4.55 5.0 -4.55 -5.0z"/>
<path d="M299.6 320.3l4.55 5.0 -4.55 5.0 -4.55 -5.0z"/>
<path d="M297.7 314.8l4.55 5.0 -4.55 5.0 -4.55 -5.0z"/>
<path d="M307.0 322.2l4.55 5.0 -4.55 5.0 -4.55 -5.0z"/>
<path d="M312.5 323.1l4.55 5.0 -4.55 5.0 -4.55 -5.0z"/>
<path d="M294.0 332.3l4.55 5.0 -4.55 5.0 -4.55 -5.0z"/>
<path d="M303.3 334.2l4.55 5.0 -4.55 5.0 -4.55 -5.0z"/>
<path d="M312.5 335.1l4.55 5.0 -4.55 5.0 -4.55 -5.0z"/>
<path d="M321.8 333.3l4.55 5.0 -4.55 5.0 -4.55 -5.0z"/>
<path d="M260.8 336.0l4.55 5.0 -4.55 5.0 -4.55 -5.0z"/>
<path d="M267.3 334.2l4.55 5.0 -4.55 5.0 -4.55 -5.0z"/>
<path d="M272.8 333.3l4.55 5.0 -4.55 5.0 -4.55 -5.0z"/>
<path d="M264.5 342.5l4.55 5.0 -4.55 5.0 -4.55 -5.0z"/>
<path d="M271.9 341.6l4.55 5.0 -4.55 5.0 -4.55 -5.0z"/>
<path d="M277.4 344.3l4.55 5.0 -4.55 5.0 -4.55 -5.0z"/>
<path d="M284.8 341.6l4.55 5.0 -4.55 5.0 -4.55 -5.0z"/>
<path d="M288.5 343.4l4.55 5.0 -4.55 5.0 -4.55 -5.0z"/>
<path d="M260.8 348.0l4.55 5.0 -4.55 5.0 -4.55 -5.0z"/>
<path d="M275.6 349.0l4.55 5.0 -4.55 5.0 -4.55 -5.0z"/>
<path d="M308.8 344.3l4.55 5.0 -4.55 5.0 -4.55 -5.0z"/>
<path d="M325.5 349.9l4.55 5.0 -4.55 5.0 -4.55 -5.0z"/>
<path d="M336.5 349.9l4.55 5.0 -4.55 5.0 -4.55 -5.0z"/>
<path d="M343.9 353.6l4.55 5.0 -4.55 5.0 -4.55 -5.0z"/>
<path d="M234.9 349.9l4.55 5.0 -4.55 5.0 -4.55 -5.0z"/>
<path d="M242.3 352.7l4.55 5.0 -4.55 5.0 -4.55 -5.0z"/>
<path d="M246.0 350.8l4.55 5.0 -4.55 5.0 -4.55 -5.0z"/>
<path d="M238.6 357.3l4.55 5.0 -4.55 5.0 -4.55 -5.0z"/>
<path d="M258.9 353.6l4.55 5.0 -4.55 5.0 -4.55 -5.0z"/>
<path d="M283.0 355.4l4.55 5.0 -4.55 5.0 -4.55 -5.0z"/>
<path d="M295.9 355.4l4.55 5.0 -4.55 5.0 -4.55 -5.0z"/>
<path d="M310.7 357.3l4.55 5.0 -4.55 5.0 -4.55 -5.0z"/>
<path d="M318.1 354.5l4.55 5.0 -4.55 5.0 -4.55 -5.0z"/>
<path d="M331.0 355.4l4.55 5.0 -4.55 5.0 -4.55 -5.0z"/>
<path d="M342.1 358.2l4.55 5.0 -4.55 5.0 -4.55 -5.0z"/>
<path d="M249.7 363.5l4.55 5.0 -4.55 5.0 -4.55 -5.0z"/>
<path d="M255.3 365.3l4.55 5.0 -4.55 5.0 -4.55 -5.0z"/>
<path d="M271.9 362.6l4.55 5.0 -4.55 5.0 -4.55 -5.0z"/>
<path d="M292.2 363.5l4.55 5.0 -4.55 5.0 -4.55 -5.0z"/>
<path d="M303.3 362.6l4.55 5.0 -4.55 5.0 -4.55 -5.0z"/>
<path d="M314.4 360.7l4.55 5.0 -4.55 5.0 -4.55 -5.0z"/>
<path d="M323.6 359.8l4.55 5.0 -4.55 5.0 -4.55 -5.0z"/>
<path d="M332.8 362.6l4.55 5.0 -4.55 5.0 -4.55 -5.0z"/>
<path d="M340.2 358.9l4.55 5.0 -4.55 5.0 -4.55 -5.0z"/>
<path d="M242.3 374.6l4.55 5.0 -4.55 5.0 -4.55 -5.0z"/>
<path d="M246.0 370.9l4.55 5.0 -4.55 5.0 -4.55 -5.0z"/>
<path d="M260.8 369.0l4.55 5.0 -4.55 5.0 -4.55 -5.0z"/>
<path d="M264.5 371.8l4.55 5.0 -4.55 5.0 -4.55 -5.0z"/>
<path d="M273.7 373.6l4.55 5.0 -4.55 5.0 -4.55 -5.0z"/>
<path d="M281.1 369.9l4.55 5.0 -4.55 5.0 -4.55 -5.0z"/>
<path d="M286.7 370.9l4.55 5.0 -4.55 5.0 -4.55 -5.0z"/>
<path d="M295.9 371.8l4.55 5.0 -4.55 5.0 -4.55 -5.0z"/>
<path d="M303.3 375.5l4.55 5.0 -4.55 5.0 -4.55 -5.0z"/>
<path d="M308.8 377.3l4.55 5.0 -4.55 5.0 -4.55 -5.0z"/>
<path d="M316.2 372.7l4.55 5.0 -4.55 5.0 -4.55 -5.0z"/>
<path d="M323.6 370.9l4.55 5.0 -4.55 5.0 -4.55 -5.0z"/>
<path d="M329.1 369.0l4.55 5.0 -4.55 5.0 -4.55 -5.0z"/>
<path d="M340.2 375.5l4.55 5.0 -4.55 5.0 -4.55 -5.0z"/>
<path d="M269.1 380.1l4.55 5.0 -4.55 5.0 -4.55 -5.0z"/>
</g>
<g stroke="#000" stroke-width="2.8" fill="none" stroke-linejoin="round" stroke-linecap="round">
<rect x="458.4" y="398.8" width="120.40" height="17.70"/>
<line x1="458.4" y1="409" x2="578.8" y2="409"/>
<line x1="518.6" y1="386.5" x2="518.6" y2="398.8"/>
<line x1="518.6" y1="416.5" x2="518.6" y2="423"/>
<line x1="511.20000000000005" y1="386.5" x2="526.0" y2="386.5"/>
<line x1="511.20000000000005" y1="423" x2="526.0" y2="423"/>
</g>
<g fill="#000" stroke="none">
<path d="M462.7 405.0l4.55 5.0 -4.55 5.0 -4.55 -5.0z"/>
<path d="M467.0 404.2l4.55 5.0 -4.55 5.0 -4.55 -5.0z"/>
<path d="M473.9 404.8l4.55 5.0 -4.55 5.0 -4.55 -5.0z"/>
<path d="M479.4 404.4l4.55 5.0 -4.55 5.0 -4.55 -5.0z"/>
<path d="M485.0 404.7l4.55 5.0 -4.55 5.0 -4.55 -5.0z"/>
<path d="M490.6 404.3l4.55 5.0 -4.55 5.0 -4.55 -5.0z"/>
<path d="M496.1 404.5l4.55 5.0 -4.55 5.0 -4.55 -5.0z"/>
<path d="M502.3 405.1l4.55 5.0 -4.55 5.0 -4.55 -5.0z"/>
<path d="M508.3 404.6l4.55 5.0 -4.55 5.0 -4.55 -5.0z"/>
<path d="M513.2 404.4l4.55 5.0 -4.55 5.0 -4.55 -5.0z"/>
<path d="M518.3 404.1l4.55 5.0 -4.55 5.0 -4.55 -5.0z"/>
<path d="M524.6 404.4l4.55 5.0 -4.55 5.0 -4.55 -5.0z"/>
<path d="M530.2 405.0l4.55 5.0 -4.55 5.0 -4.55 -5.0z"/>
<path d="M536.1 404.7l4.55 5.0 -4.55 5.0 -4.55 -5.0z"/>
<path d="M541.4 404.1l4.55 5.0 -4.55 5.0 -4.55 -5.0z"/>
<path d="M547.2 404.2l4.55 5.0 -4.55 5.0 -4.55 -5.0z"/>
<path d="M553.2 405.1l4.55 5.0 -4.55 5.0 -4.55 -5.0z"/>
<path d="M559.2 404.3l4.55 5.0 -4.55 5.0 -4.55 -5.0z"/>
<path d="M565.2 404.9l4.55 5.0 -4.55 5.0 -4.55 -5.0z"/>
<path d="M570.7 405.0l4.55 5.0 -4.55 5.0 -4.55 -5.0z"/>
<path d="M576.4 404.9l4.55 5.0 -4.55 5.0 -4.55 -5.0z"/>
<path d="M486.0 395.8l4.55 5.0 -4.55 5.0 -4.55 -5.0z"/>
<path d="M492.0 396.0l4.55 5.0 -4.55 5.0 -4.55 -5.0z"/>
<path d="M498.0 396.0l4.55 5.0 -4.55 5.0 -4.55 -5.0z"/>
<path d="M504.0 396.0l4.55 5.0 -4.55 5.0 -4.55 -5.0z"/>
<path d="M510.0 396.0l4.55 5.0 -4.55 5.0 -4.55 -5.0z"/>
<path d="M516.0 396.0l4.55 5.0 -4.55 5.0 -4.55 -5.0z"/>
<path d="M546.0 396.0l4.55 5.0 -4.55 5.0 -4.55 -5.0z"/>
<path d="M552.0 396.0l4.55 5.0 -4.55 5.0 -4.55 -5.0z"/>
<path d="M558.0 396.0l4.55 5.0 -4.55 5.0 -4.55 -5.0z"/>
<path d="M564.0 396.0l4.55 5.0 -4.55 5.0 -4.55 -5.0z"/>
<path d="M468.0 399.0l4.55 5.0 -4.55 5.0 -4.55 -5.0z"/>
<path d="M472.0 399.0l4.55 5.0 -4.55 5.0 -4.55 -5.0z"/>
<path d="M476.0 399.0l4.55 5.0 -4.55 5.0 -4.55 -5.0z"/>
<path d="M526.0 398.5l4.55 5.0 -4.55 5.0 -4.55 -5.0z"/>
<path d="M531.0 398.5l4.55 5.0 -4.55 5.0 -4.55 -5.0z"/>
<path d="M536.0 398.5l4.55 5.0 -4.55 5.0 -4.55 -5.0z"/>
<path d="M540.0 398.5l4.55 5.0 -4.55 5.0 -4.55 -5.0z"/>
<path d="M572.0 398.5l4.55 5.0 -4.55 5.0 -4.55 -5.0z"/>
<path d="M465.5 408.0l4.55 5.0 -4.55 5.0 -4.55 -5.0z"/>
<path d="M486.0 408.0l4.55 5.0 -4.55 5.0 -4.55 -5.0z"/>
<path d="M501.0 408.0l4.55 5.0 -4.55 5.0 -4.55 -5.0z"/>
<path d="M506.0 408.0l4.55 5.0 -4.55 5.0 -4.55 -5.0z"/>
<path d="M511.0 408.0l4.55 5.0 -4.55 5.0 -4.55 -5.0z"/>
<path d="M516.0 408.0l4.55 5.0 -4.55 5.0 -4.55 -5.0z"/>
<path d="M521.0 408.0l4.55 5.0 -4.55 5.0 -4.55 -5.0z"/>
<path d="M552.0 408.0l4.55 5.0 -4.55 5.0 -4.55 -5.0z"/>
<path d="M557.0 408.0l4.55 5.0 -4.55 5.0 -4.55 -5.0z"/>
<path d="M562.0 408.0l4.55 5.0 -4.55 5.0 -4.55 -5.0z"/>
<path d="M567.0 408.0l4.55 5.0 -4.55 5.0 -4.55 -5.0z"/>
<path d="M462.0 391.5l4.55 5.0 -4.55 5.0 -4.55 -5.0z"/>
<path d="M475.7 391.7l4.55 5.0 -4.55 5.0 -4.55 -5.0z"/>
<path d="M489.9 393.1l4.55 5.0 -4.55 5.0 -4.55 -5.0z"/>
<path d="M497.2 383.0l4.55 5.0 -4.55 5.0 -4.55 -5.0z"/>
<path d="M504.0 388.1l4.55 5.0 -4.55 5.0 -4.55 -5.0z"/>
<path d="M510.4 383.5l4.55 5.0 -4.55 5.0 -4.55 -5.0z"/>
<path d="M515.9 382.1l4.55 5.0 -4.55 5.0 -4.55 -5.0z"/>
<path d="M524.1 388.1l4.55 5.0 -4.55 5.0 -4.55 -5.0z"/>
<path d="M532.3 387.6l4.55 5.0 -4.55 5.0 -4.55 -5.0z"/>
<path d="M539.2 387.6l4.55 5.0 -4.55 5.0 -4.55 -5.0z"/>
<path d="M546.5 392.2l4.55 5.0 -4.55 5.0 -4.55 -5.0z"/>
<path d="M553.3 390.3l4.55 5.0 -4.55 5.0 -4.55 -5.0z"/>
<path d="M560.6 392.6l4.55 5.0 -4.55 5.0 -4.55 -5.0z"/>
<path d="M567.9 392.6l4.55 5.0 -4.55 5.0 -4.55 -5.0z"/>
<path d="M574.8 392.6l4.55 5.0 -4.55 5.0 -4.55 -5.0z"/>
<path d="M465.7 414.0l4.55 5.0 -4.55 5.0 -4.55 -5.0z"/>
<path d="M471.2 414.0l4.55 5.0 -4.55 5.0 -4.55 -5.0z"/>
<path d="M478.5 415.9l4.55 5.0 -4.55 5.0 -4.55 -5.0z"/>
<path d="M482.1 414.1l4.55 5.0 -4.55 5.0 -4.55 -5.0z"/>
<path d="M490.3 414.5l4.55 5.0 -4.55 5.0 -4.55 -5.0z"/>
<path d="M494.9 415.9l4.55 5.0 -4.55 5.0 -4.55 -5.0z"/>
<path d="M503.1 413.1l4.55 5.0 -4.55 5.0 -4.55 -5.0z"/>
<path d="M508.6 415.9l4.55 5.0 -4.55 5.0 -4.55 -5.0z"/>
<path d="M514.0 413.1l4.55 5.0 -4.55 5.0 -4.55 -5.0z"/>
<path d="M526.9 417.7l4.55 5.0 -4.55 5.0 -4.55 -5.0z"/>
<path d="M533.2 415.9l4.55 5.0 -4.55 5.0 -4.55 -5.0z"/>
<path d="M539.6 415.0l4.55 5.0 -4.55 5.0 -4.55 -5.0z"/>
<path d="M545.1 415.0l4.55 5.0 -4.55 5.0 -4.55 -5.0z"/>
<path d="M550.6 415.0l4.55 5.0 -4.55 5.0 -4.55 -5.0z"/>
<path d="M556.0 414.0l4.55 5.0 -4.55 5.0 -4.55 -5.0z"/>
<path d="M562.0 414.0l4.55 5.0 -4.55 5.0 -4.55 -5.0z"/>
<path d="M571.6 413.1l4.55 5.0 -4.55 5.0 -4.55 -5.0z"/>
<path d="M512.0 419.0l4.55 5.0 -4.55 5.0 -4.55 -5.0z"/>
<path d="M518.0 421.0l4.55 5.0 -4.55 5.0 -4.55 -5.0z"/>
<path d="M524.0 419.0l4.55 5.0 -4.55 5.0 -4.55 -5.0z"/>
</g>
<g stroke="#d01c21" stroke-width="2.8" fill="none" stroke-linejoin="round" stroke-linecap="round">
<rect x="608.4" y="328.6" width="120.30" height="17.70"/>
<line x1="608.4" y1="336.8" x2="728.7" y2="336.8"/>
<line x1="668.4" y1="313" x2="668.4" y2="328.6"/>
<line x1="668.4" y1="346.3" x2="668.4" y2="354"/>
<line x1="661.0" y1="313" x2="675.8" y2="313"/>
<line x1="661.0" y1="354" x2="675.8" y2="354"/>
</g>
<g fill="#d01c21" stroke="none">
<path d="M611.6 332.2l4.55 5.0 -4.55 5.0 -4.55 -5.0z"/>
<path d="M617.5 332.3l4.55 5.0 -4.55 5.0 -4.55 -5.0z"/>
<path d="M622.6 332.5l4.55 5.0 -4.55 5.0 -4.55 -5.0z"/>
<path d="M629.6 332.9l4.55 5.0 -4.55 5.0 -4.55 -5.0z"/>
<path d="M635.0 332.3l4.55 5.0 -4.55 5.0 -4.55 -5.0z"/>
<path d="M640.3 332.4l4.55 5.0 -4.55 5.0 -4.55 -5.0z"/>
<path d="M645.4 332.2l4.55 5.0 -4.55 5.0 -4.55 -5.0z"/>
<path d="M651.1 333.0l4.55 5.0 -4.55 5.0 -4.55 -5.0z"/>
<path d="M657.7 332.9l4.55 5.0 -4.55 5.0 -4.55 -5.0z"/>
<path d="M663.3 332.3l4.55 5.0 -4.55 5.0 -4.55 -5.0z"/>
<path d="M668.2 332.7l4.55 5.0 -4.55 5.0 -4.55 -5.0z"/>
<path d="M674.5 333.0l4.55 5.0 -4.55 5.0 -4.55 -5.0z"/>
<path d="M680.4 332.2l4.55 5.0 -4.55 5.0 -4.55 -5.0z"/>
<path d="M685.6 332.8l4.55 5.0 -4.55 5.0 -4.55 -5.0z"/>
<path d="M691.1 332.3l4.55 5.0 -4.55 5.0 -4.55 -5.0z"/>
<path d="M696.7 332.2l4.55 5.0 -4.55 5.0 -4.55 -5.0z"/>
<path d="M703.1 333.0l4.55 5.0 -4.55 5.0 -4.55 -5.0z"/>
<path d="M708.1 332.4l4.55 5.0 -4.55 5.0 -4.55 -5.0z"/>
<path d="M714.4 332.7l4.55 5.0 -4.55 5.0 -4.55 -5.0z"/>
<path d="M720.0 332.9l4.55 5.0 -4.55 5.0 -4.55 -5.0z"/>
<path d="M725.0 332.5l4.55 5.0 -4.55 5.0 -4.55 -5.0z"/>
<path d="M626.0 327.0l4.55 5.0 -4.55 5.0 -4.55 -5.0z"/>
<path d="M631.0 327.0l4.55 5.0 -4.55 5.0 -4.55 -5.0z"/>
<path d="M636.0 327.0l4.55 5.0 -4.55 5.0 -4.55 -5.0z"/>
<path d="M656.0 327.0l4.55 5.0 -4.55 5.0 -4.55 -5.0z"/>
<path d="M695.0 327.0l4.55 5.0 -4.55 5.0 -4.55 -5.0z"/>
<path d="M700.0 327.0l4.55 5.0 -4.55 5.0 -4.55 -5.0z"/>
<path d="M705.0 327.0l4.55 5.0 -4.55 5.0 -4.55 -5.0z"/>
<path d="M710.0 327.0l4.55 5.0 -4.55 5.0 -4.55 -5.0z"/>
<path d="M715.0 327.0l4.55 5.0 -4.55 5.0 -4.55 -5.0z"/>
<path d="M720.0 327.0l4.55 5.0 -4.55 5.0 -4.55 -5.0z"/>
<path d="M725.0 327.0l4.55 5.0 -4.55 5.0 -4.55 -5.0z"/>
<path d="M631.0 337.5l4.55 5.0 -4.55 5.0 -4.55 -5.0z"/>
<path d="M636.0 337.5l4.55 5.0 -4.55 5.0 -4.55 -5.0z"/>
<path d="M648.0 337.5l4.55 5.0 -4.55 5.0 -4.55 -5.0z"/>
<path d="M686.0 337.5l4.55 5.0 -4.55 5.0 -4.55 -5.0z"/>
<path d="M690.0 337.5l4.55 5.0 -4.55 5.0 -4.55 -5.0z"/>
<path d="M615.5 343.5l4.55 5.0 -4.55 5.0 -4.55 -5.0z"/>
<path d="M619.9 344.0l4.55 5.0 -4.55 5.0 -4.55 -5.0z"/>
<path d="M624.3 345.0l4.55 5.0 -4.55 5.0 -4.55 -5.0z"/>
<path d="M642.0 350.1l4.55 5.0 -4.55 5.0 -4.55 -5.0z"/>
<path d="M646.4 347.5l4.55 5.0 -4.55 5.0 -4.55 -5.0z"/>
<path d="M650.8 345.7l4.55 5.0 -4.55 5.0 -4.55 -5.0z"/>
<path d="M658.6 346.0l4.55 5.0 -4.55 5.0 -4.55 -5.0z"/>
<path d="M665.0 349.1l4.55 5.0 -4.55 5.0 -4.55 -5.0z"/>
<path d="M671.4 346.0l4.55 5.0 -4.55 5.0 -4.55 -5.0z"/>
<path d="M678.9 347.0l4.55 5.0 -4.55 5.0 -4.55 -5.0z"/>
<path d="M671.6 352.0l4.55 5.0 -4.55 5.0 -4.55 -5.0z"/>
<path d="M679.9 348.3l4.55 5.0 -4.55 5.0 -4.55 -5.0z"/>
<path d="M687.2 351.1l4.55 5.0 -4.55 5.0 -4.55 -5.0z"/>
<path d="M694.5 346.5l4.55 5.0 -4.55 5.0 -4.55 -5.0z"/>
<path d="M699.0 343.8l4.55 5.0 -4.55 5.0 -4.55 -5.0z"/>
<path d="M706.3 345.6l4.55 5.0 -4.55 5.0 -4.55 -5.0z"/>
<path d="M713.6 345.6l4.55 5.0 -4.55 5.0 -4.55 -5.0z"/>
<path d="M720.9 345.6l4.55 5.0 -4.55 5.0 -4.55 -5.0z"/>
<path d="M726.0 343.5l4.55 5.0 -4.55 5.0 -4.55 -5.0z"/>
<path d="M642.0 317.4l4.55 5.0 -4.55 5.0 -4.55 -5.0z"/>
<path d="M646.4 314.8l4.55 5.0 -4.55 5.0 -4.55 -5.0z"/>
<path d="M653.5 320.1l4.55 5.0 -4.55 5.0 -4.55 -5.0z"/>
<path d="M658.8 315.7l4.55 5.0 -4.55 5.0 -4.55 -5.0z"/>
<path d="M665.0 319.2l4.55 5.0 -4.55 5.0 -4.55 -5.0z"/>
<path d="M649.5 317.1l4.55 5.0 -4.55 5.0 -4.55 -5.0z"/>
<path d="M656.4 315.0l4.55 5.0 -4.55 5.0 -4.55 -5.0z"/>
<path d="M662.8 308.0l4.55 5.0 -4.55 5.0 -4.55 -5.0z"/>
<path d="M669.3 306.9l4.55 5.0 -4.55 5.0 -4.55 -5.0z"/>
<path d="M666.0 316.0l4.55 5.0 -4.55 5.0 -4.55 -5.0z"/>
<path d="M672.5 310.7l4.55 5.0 -4.55 5.0 -4.55 -5.0z"/>
<path d="M678.9 312.8l4.55 5.0 -4.55 5.0 -4.55 -5.0z"/>
<path d="M673.5 319.1l4.55 5.0 -4.55 5.0 -4.55 -5.0z"/>
<path d="M681.7 319.1l4.55 5.0 -4.55 5.0 -4.55 -5.0z"/>
<path d="M689.9 319.1l4.55 5.0 -4.55 5.0 -4.55 -5.0z"/>
<path d="M686.2 313.6l4.55 5.0 -4.55 5.0 -4.55 -5.0z"/>
<path d="M694.5 312.7l4.55 5.0 -4.55 5.0 -4.55 -5.0z"/>
<path d="M669.8 311.8l4.55 5.0 -4.55 5.0 -4.55 -5.0z"/>
<path d="M678.0 313.6l4.55 5.0 -4.55 5.0 -4.55 -5.0z"/>
<path d="M640.0 321.5l4.55 5.0 -4.55 5.0 -4.55 -5.0z"/>
<path d="M700.0 322.0l4.55 5.0 -4.55 5.0 -4.55 -5.0z"/>
<path d="M660.0 322.0l4.55 5.0 -4.55 5.0 -4.55 -5.0z"/>
</g>
</svg>
</body></html>
